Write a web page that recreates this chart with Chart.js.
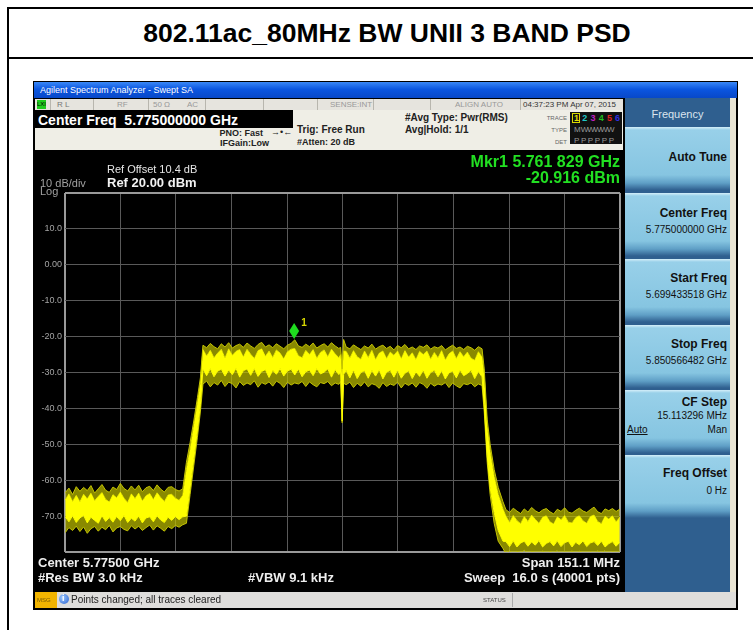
<!DOCTYPE html>
<html lang="en">
<head>
<meta charset="UTF-8">
<title>802.11ac_80MHz BW UNII 3 BAND PSD</title>
<script src="https://cdn.jsdelivr.net/npm/chart.js"></script>
<style>
  body { margin: 0; width: 753px; height: 630px; position: relative; overflow: hidden; background: #fff;
         font-family: "Liberation Sans", Arial, sans-serif; }
  .abs { position: absolute; }
  .t { position: absolute; white-space: nowrap; line-height: 1; }
  .b { font-weight: bold; }
  .sep { position: absolute; top: 99px; width: 1px; height: 11px; background: #b8b6ae; }
  .key { position: absolute; left: 625px; width: 105px;
         background: linear-gradient(to bottom, #d4eef9 0px, #98d0e9 3px, #86c5e1 48px, #5f9fc6 56px, #2f5f8f 100%); }
  .key .t { right: 3px; color: #111; }
</style>
</head>
<body>
  <!-- outer table frame -->
  <div class="abs" style="left:7px;top:7px;width:800px;height:700px;border-top:2px solid #000;border-left:2px solid #000;"></div>
  <div class="abs" style="left:7px;top:57px;width:800px;height:0;border-top:2px solid #000;"></div>
  <div class="t b" style="left:7px;width:760px;top:20px;text-align:center;font-size:26.5px;color:#000;">802.11ac_80MHz BW UNII 3 BAND PSD</div>

  <!-- analyzer window -->
  <div class="abs" style="left:33px;top:81px;width:705px;height:529px;background:#000;"></div>
  <div class="abs" style="left:34px;top:82px;width:703px;height:16px;background:linear-gradient(#3a88f7,#0b56e0 45%,#0848c8);"></div>
  <div class="t" style="left:40px;top:86px;font-size:9px;color:#fff;">Agilent Spectrum Analyzer - Swept SA</div>

  <!-- status row -->
  <div class="abs" style="left:35px;top:99px;width:588px;height:11px;background:#e6e4de;"></div>
  <div class="abs" style="left:37px;top:100px;width:9px;height:9px;background:#1fcc1f;"></div>
  <div class="t" style="left:37px;top:101px;font-size:6px;color:#000;">LXI</div>
  <div class="t" style="left:57px;top:101px;font-size:8px;color:#777;">R L</div>
  <div class="t" style="left:117px;top:101px;font-size:8px;color:#999;">RF</div>
  <div class="t" style="left:153px;top:101px;font-size:8px;color:#999;">50 Ω</div>
  <div class="t" style="left:187px;top:101px;font-size:8px;color:#999;">AC</div>
  <div class="t" style="left:330px;top:101px;font-size:8px;color:#999;">SENSE:INT</div>
  <div class="t" style="left:455px;top:101px;font-size:8px;color:#999;">ALIGN AUTO</div>
  <div class="t" style="left:523px;top:101px;font-size:8px;color:#333;">04:37:23 PM Apr 07, 2015</div>
  <div class="sep" style="left:50px"></div><div class="sep" style="left:93px"></div>
  <div class="sep" style="left:148px"></div><div class="sep" style="left:205px"></div>
  <div class="sep" style="left:263px"></div><div class="sep" style="left:317px"></div>
  <div class="sep" style="left:373px"></div><div class="sep" style="left:430px"></div>
  <div class="sep" style="left:520px"></div>

  <!-- settings panel -->
  <div class="abs" style="left:35px;top:110px;width:588px;height:40px;background:#efeee6;"></div>
  <div class="abs" style="left:35px;top:110px;width:258px;height:18px;background:#000;"></div>
  <div class="t b" style="left:38px;top:113px;font-size:14px;color:#fff;">Center Freq&nbsp; 5.775000000 GHz</div>
  <div class="t b" style="right:490px;top:129px;font-size:9px;color:#222;">PNO: Fast</div>
  <div class="t" style="left:271px;top:128px;font-size:9px;color:#222;">→•←</div>
  <div class="t b" style="left:220px;top:139px;font-size:9px;color:#222;">IFGain:Low</div>
  <div class="t b" style="left:297px;top:125px;font-size:10px;color:#222;">Trig: Free Run</div>
  <div class="t b" style="left:297px;top:138px;font-size:9px;color:#222;">#Atten: 20 dB</div>
  <div class="t b" style="left:405px;top:113px;font-size:10px;color:#222;">#Avg Type: Pwr(RMS)</div>
  <div class="t b" style="left:405px;top:125px;font-size:10px;color:#222;">Avg|Hold: 1/1</div>
  <div class="t" style="right:186px;top:115px;font-size:6px;color:#666;">TRACE</div>
  <div class="t" style="right:186px;top:127px;font-size:6px;color:#666;">TYPE</div>
  <div class="t" style="right:186px;top:139px;font-size:6px;color:#666;">DET</div>
  <div class="abs" style="left:570px;top:112px;width:52px;height:32px;background:#111;"></div>
  <div class="abs" style="left:572px;top:113px;width:8px;height:10px;border:1px solid #d8d800;box-sizing:border-box;"></div>
  <div class="t b" style="left:574px;top:114px;font-size:9px;letter-spacing:3.2px;">
    <span style="color:#e0e000">1</span><span style="color:#20c8c8">2</span><span style="color:#c020c0">3</span><span style="color:#20c020">4</span><span style="color:#e02020">5</span><span style="color:#3030e0">6</span>
  </div>
  <div class="t" style="left:574px;top:126px;font-size:8px;color:#999;">M<span style="letter-spacing:-1px">WWWWW</span></div>
  <div class="t" style="left:574px;top:137px;font-size:8px;color:#999;letter-spacing:1.6px;">PPPPPP</div>

  <!-- trace display -->
  <canvas id="spectrum" width="588" height="442" style="position:absolute;left:35px;top:150px;"></canvas>

  <div class="t" style="left:107px;top:164px;font-size:11px;color:#e6e6e6;">Ref Offset 10.4 dB</div>
  <div class="t b" style="left:107px;top:176px;font-size:13px;color:#f2f2f2;">Ref 20.00 dBm</div>
  <div class="t" style="left:40px;top:178px;font-size:11px;color:#a0a0a0;">10 dB/div</div>
  <div class="t" style="left:40px;top:186px;font-size:11px;color:#a0a0a0;">Log</div>
  <div class="t b" style="right:133px;top:154px;font-size:16px;color:#22e022;">Mkr1 5.761 829 GHz</div>
  <div class="t b" style="right:133px;top:170px;font-size:16px;color:#22e022;">-20.916 dBm</div>
  <div class="t b" style="left:38px;top:556px;font-size:13px;color:#eee;">Center 5.77500 GHz</div>
  <div class="t b" style="left:38px;top:571px;font-size:13px;color:#eee;">#Res BW 3.0 kHz</div>
  <div class="t b" style="left:248px;top:571px;font-size:13px;color:#eee;">#VBW 9.1 kHz</div>
  <div class="t b" style="right:133px;top:556px;font-size:13px;color:#eee;">Span 151.1 MHz</div>
  <div class="t b" style="right:133px;top:571px;font-size:13px;color:#eee;">Sweep&nbsp; 16.0 s (40001 pts)</div>

  <!-- softkey panel -->
  <div class="abs" style="left:623px;top:98px;width:113px;height:494px;background:#2f5f8f;border-left:2px solid #000;box-sizing:border-box;"></div>
  <div class="abs" style="left:730px;top:98px;width:6px;height:494px;background:#e8e4d4;"></div>
  <div class="t" style="left:625px;width:105px;top:109px;text-align:center;font-size:11px;color:#dbe4ee;">Frequency</div>

  <div class="key" style="top:127px;height:63px;">
    <div class="t b" style="top:24px;font-size:12px;">Auto Tune</div>
  </div>
  <div class="key" style="top:193px;height:63px;">
    <div class="t b" style="top:14px;font-size:12px;">Center Freq</div>
    <div class="t" style="top:32px;font-size:10px;">5.775000000 GHz</div>
  </div>
  <div class="key" style="top:259px;height:63px;">
    <div class="t b" style="top:13px;font-size:12px;">Start Freq</div>
    <div class="t" style="top:31px;font-size:10px;">5.699433518 GHz</div>
  </div>
  <div class="key" style="top:325px;height:63px;">
    <div class="t b" style="top:13px;font-size:12px;">Stop Freq</div>
    <div class="t" style="top:31px;font-size:10px;">5.850566482 GHz</div>
  </div>
  <div class="key" style="top:390px;height:63px;">
    <div class="t b" style="top:6px;font-size:12px;">CF Step</div>
    <div class="t" style="top:21px;font-size:10px;">15.113296 MHz</div>
    <div class="t" style="top:35px;font-size:10px;left:2px;right:auto;text-decoration:underline;">Auto</div>
    <div class="t" style="top:35px;font-size:10px;">Man</div>
  </div>
  <div class="key" style="top:455px;height:63px;">
    <div class="t b" style="top:12px;font-size:12px;">Freq Offset</div>
    <div class="t" style="top:31px;font-size:10px;">0 Hz</div>
  </div>

  <!-- message bar -->
  <div class="abs" style="left:35px;top:592px;width:701px;height:16px;background:#dedddb;"></div>
  <div class="abs" style="left:35px;top:592px;width:22px;height:16px;background:#f2b400;"></div>
  <div class="t" style="left:37px;top:597px;font-size:6px;color:#7a5a00;">MSG</div>
  <div class="abs" style="left:59px;top:594px;width:10px;height:10px;border-radius:50%;background:radial-gradient(circle at 35% 35%,#9cc8ff,#2a62d0);"></div>
  <div class="t b" style="left:62px;top:594px;font-size:9px;color:#fff;">i</div>
  <div class="t" style="left:71px;top:595px;font-size:10px;color:#222;">Points changed; all traces cleared</div>
  <div class="t" style="left:483px;top:597px;font-size:6px;color:#444;">STATUS</div>
  <div class="abs" style="left:512px;top:593px;width:1px;height:14px;background:#aaa;"></div>

<script>
  // sweep settings
  const startMHz = 5699.433518;
  const stopMHz = 5850.566482;
  const refLevel = 20;
  const bottomLevel = -80;
  const markerMHz = 5761.829;
  const markerDbm = -20.916;

  // trace envelopes (dBm)
  const freqMHz = [
    5699.5, 5700.5, 5701.5, 5702.5, 5703.5, 5704.5, 5705.5, 5706.5, 5707.5, 5708.5, 5709.5, 5710.5,
    5711.5, 5712.5, 5713.5, 5714.5, 5715.5, 5716.5, 5717.5, 5718.5, 5719.5, 5720.5, 5721.5, 5722.5,
    5723.5, 5724.5, 5725.5, 5726.5, 5727.5, 5728.5, 5729.5, 5730.5, 5731.5,
    5732.5, 5733.5, 5734.5, 5735.5, 5736.3,
    5737, 5738, 5739, 5740, 5741, 5742, 5743, 5744, 5745, 5746, 5747, 5748, 5749, 5750, 5751, 5752,
    5753, 5754, 5755, 5756, 5757, 5758, 5759, 5760, 5761, 5762, 5763, 5764, 5765, 5766, 5767, 5768,
    5769, 5770, 5771, 5772, 5773, 5774,
    5774.5, 5774.9, 5775.3,
    5776, 5777, 5778, 5779, 5780, 5781, 5782, 5783, 5784, 5785, 5786, 5787, 5788, 5789, 5790, 5791,
    5792, 5793, 5794, 5795, 5796, 5797, 5798, 5799, 5800, 5801, 5802, 5803, 5804, 5805, 5806, 5807,
    5808, 5809, 5810, 5811, 5812, 5813,
    5813.6, 5814.4, 5815.2, 5816.3, 5817.4, 5818.7,
    5819.5, 5820.5, 5821.5, 5822.5, 5823.5, 5824.5, 5825.5, 5826.5, 5827.5, 5828.5, 5829.5, 5830.5,
    5831.5, 5832.5, 5833.5, 5834.5, 5835.5, 5836.5, 5837.5, 5838.5, 5839.5, 5840.5, 5841.5, 5842.5,
    5843.5, 5844.5, 5845.5, 5846.5, 5847.5, 5848.5, 5849.5, 5850.5
  ];

  const peakHigh = [
    -63.5, -62.2, -64.0, -61.8, -63.1, -62.0, -62.9, -61.5, -63.6, -62.4, -61.2, -62.8, -63.4, -61.9, -62.6, -60.9,
    -62.3, -63.0, -61.6, -62.7, -61.4, -63.2, -62.1, -61.7, -62.9, -61.3, -62.5, -63.3, -62.0, -61.8, -62.6, -63.0, -62.4,
    -55, -49.5, -43.5, -37, -31.5,
    -22.4, -23.1, -21.9, -22.8, -23.4, -22.0, -22.9, -21.7, -23.2, -22.5, -22.1, -23.0, -21.8, -22.6, -23.3, -22.2,
    -21.6, -22.9, -22.3, -23.1, -22.0, -22.7, -23.4, -22.4, -21.9, -20.9, -22.6, -23.0, -22.1, -22.8, -21.8, -23.2,
    -22.5, -22.0, -22.9, -21.7, -22.6, -23.3,
    -23.0, -29.0, -20.8,
    -22.9, -23.4, -22.3, -23.0, -23.6, -22.6, -23.2, -22.1, -23.5, -22.8, -22.4, -23.3, -22.7, -23.7, -22.5, -23.1,
    -22.2, -23.4, -22.9, -23.6, -22.6, -23.0, -22.3, -23.5, -22.8, -23.2, -22.5, -23.7, -23.0, -22.4, -23.3, -22.9,
    -23.6, -22.7, -23.1, -23.8, -22.8, -23.4,
    -29, -43, -50, -57, -62, -66,
    -68.2, -69.0, -67.8, -68.6, -69.3, -68.0, -68.9, -67.6, -68.5, -69.1, -68.3, -67.9, -68.8, -69.4, -68.1, -68.7,
    -67.7, -68.9, -69.2, -68.4, -67.8, -68.6, -69.0, -68.2, -67.5, -68.8, -69.3, -68.0, -68.5, -67.9, -68.7, -68.1
  ];

  const bandHigh = [
    -65.5, -63.8, -65.9, -64.2, -66.0, -63.9, -65.2, -63.6, -65.7, -64.5, -63.4, -65.3, -66.1, -64.0, -64.9, -63.3,
    -65.0, -66.2, -63.8, -65.1, -63.6, -65.8, -64.3, -63.7, -65.4, -63.5, -64.8, -65.9, -64.1, -63.9, -65.0, -65.6, -64.2,
    -57, -51.5, -45, -38.5, -33,
    -23.6, -25.4, -23.8, -25.9, -24.6, -23.5, -26.0, -23.4, -25.2, -24.1, -23.6, -25.7, -23.5, -24.9, -26.1, -23.9,
    -23.4, -25.5, -24.0, -25.8, -23.7, -24.6, -26.2, -24.2, -23.5, -23.3, -25.3, -25.9, -23.8, -25.0, -23.6, -26.0,
    -24.4, -23.7, -25.6, -23.5, -24.8, -25.9,
    -25.0, -31.0, -24.0,
    -24.1, -26.0, -23.9, -25.6, -26.3, -24.0, -25.8, -23.8, -26.4, -24.6, -24.0, -26.1, -24.3, -25.2, -24.0, -26.2,
    -23.9, -25.7, -24.5, -26.4, -24.1, -25.0, -24.0, -26.3, -24.4, -25.9, -23.9, -26.5, -24.8, -24.0, -26.1, -24.2,
    -25.6, -24.3, -26.0, -26.6, -24.2, -25.7,
    -31, -45, -52, -59, -64, -68,
    -70.0, -71.8, -69.8, -71.2, -72.1, -70.1, -71.5, -69.7, -70.9, -72.0, -70.3, -69.9, -71.6, -72.2, -70.2, -71.0,
    -69.8, -71.7, -71.9, -70.4, -69.9, -71.3, -72.0, -70.1, -69.7, -71.5, -72.1, -70.0, -70.8, -69.9, -71.6, -70.3
  ];

  const bandLow = [
    -70.2, -71.6, -69.9, -71.8, -70.5, -69.8, -71.9, -70.3, -71.2, -72.0, -69.9, -71.5, -70.4, -71.7, -70.1, -71.3,
    -69.8, -71.8, -70.6, -71.4, -70.0, -71.9, -70.5, -70.2, -71.6, -69.9, -71.1, -71.8, -70.3, -71.2, -70.1, -71.0, -70.2,
    -70, -62, -54, -46, -39,
    -29.0, -30.9, -28.9, -31.2, -29.6, -29.1, -31.0, -29.3, -30.6, -28.8, -31.3, -29.5, -29.0, -30.8, -28.9, -31.1,
    -29.7, -29.2, -31.4, -29.4, -30.5, -28.9, -31.0, -29.6, -29.1, -30.7, -29.0, -31.2, -29.8, -29.3, -30.9, -28.9,
    -30.4, -29.9, -29.0, -31.3, -29.2, -30.6,
    -30.0, -43.5, -30.5,
    -29.4, -31.5, -29.3, -31.7, -30.0, -29.5, -31.6, -29.4, -31.0, -29.2, -31.8, -29.9, -29.4, -31.3, -29.3, -31.6,
    -30.2, -29.5, -31.7, -29.8, -31.1, -29.3, -31.6, -30.0, -29.4, -31.2, -29.5, -31.8, -30.1, -29.6, -31.5, -29.3,
    -30.9, -30.3, -29.4, -31.7, -29.7, -31.2,
    -39, -53, -62, -69, -74, -77,
    -77.1, -78.5, -76.9, -78.6, -77.5, -77.0, -78.4, -77.2, -78.1, -76.8, -78.6, -77.6, -77.1, -78.3, -76.9, -78.5,
    -77.4, -77.0, -78.6, -77.3, -78.0, -76.9, -78.5, -77.5, -77.1, -78.2, -77.0, -78.6, -77.7, -77.1, -78.4, -77.3
  ];

  const peakLow = [
    -74.6, -73.2, -74.0, -72.8, -74.3, -73.0, -74.8, -73.5, -72.9, -74.2, -73.1, -73.8, -72.6, -74.4, -73.3, -72.9,
    -73.7, -74.1, -72.7, -73.6, -72.8, -74.0, -73.2, -72.5, -73.9, -72.7, -73.4, -74.2, -72.9, -73.5, -72.6, -73.1, -72.4,
    -72, -64, -56, -48, -41,
    -33.2, -32.4, -34.0, -32.8, -33.5, -32.2, -33.9, -32.7, -33.1, -34.3, -32.5, -33.6, -32.9, -33.4, -32.3, -34.1,
    -32.8, -33.3, -32.6, -33.8, -32.4, -33.0, -34.2, -32.7, -33.5, -32.9, -33.2, -32.5, -33.9, -32.6, -33.4, -34.0,
    -32.8, -33.1, -32.5, -33.7, -32.9, -33.3,
    -32.5, -44.0, -33.0,
    -33.4, -32.7, -34.2, -33.0, -33.8, -32.6, -34.0, -33.1, -33.5, -34.4, -32.8, -33.9, -33.2, -33.6, -32.7, -34.3,
    -33.0, -33.6, -32.9, -34.1, -32.8, -33.3, -34.4, -33.0, -33.8, -33.2, -33.5, -32.8, -34.2, -32.9, -33.7, -34.3,
    -33.1, -33.4, -32.9, -34.0, -33.2, -33.6,
    -41, -55, -64, -72, -77, -79,
    -80.5, -79.6, -81.0, -79.8, -80.4, -79.5, -80.8, -79.9, -80.2, -81.1, -79.7, -80.6, -79.9, -80.3, -79.6, -80.9,
    -80.0, -80.4, -79.7, -80.7, -79.8, -80.2, -81.0, -79.9, -80.5, -79.7, -80.3, -79.6, -80.8, -79.9, -80.4, -80.0
  ];

  const toPoints = vals => freqMHz.map((f, i) => ({ x: f, y: vals[i] }));

  const frameColor = '#9a9a9a';
  const gridColor = '#595959';

  // green diamond marker sitting on top of the trace point
  const markerPlugin = {
    id: 'marker1',
    afterDatasetsDraw(chart) {
      const { ctx, scales } = chart;
      const px = scales.x.getPixelForValue(markerMHz);
      const py = scales.y.getPixelForValue(markerDbm);
      ctx.save();
      ctx.fillStyle = '#1fdc1f';
      ctx.beginPath();
      ctx.moveTo(px, py - 17);
      ctx.lineTo(px + 5, py - 9);
      ctx.lineTo(px, py - 1);
      ctx.lineTo(px - 5, py - 9);
      ctx.closePath();
      ctx.fill();
      ctx.fillStyle = '#d6d600';
      ctx.font = 'bold 10px "Liberation Sans", Arial';
      ctx.fillText('1', px + 7, py - 14);
      ctx.restore();
    }
  };

  const fringe = 'rgba(195, 195, 0, 0.7)';

  new Chart(document.getElementById('spectrum'), {
    type: 'line',
    data: {
      datasets: [
        { data: toPoints(peakHigh), borderColor: '#c4c400', borderWidth: 1, backgroundColor: fringe, fill: '+1' },
        { data: toPoints(bandHigh), borderColor: '#ffff00', borderWidth: 1, backgroundColor: '#ffff00', fill: '+1' },
        { data: toPoints(bandLow), borderColor: '#ffff00', borderWidth: 1, backgroundColor: fringe, fill: '+1' },
        { data: toPoints(peakLow), borderColor: '#c4c400', borderWidth: 1, fill: false }
      ]
    },
    options: {
      responsive: false,
      animation: false,
      devicePixelRatio: 1,
      elements: { point: { radius: 0 }, line: { tension: 0 } },
      layout: { padding: { top: 43, right: 3, bottom: 40, left: 0 } },
      plugins: { legend: { display: false }, tooltip: { enabled: false } },
      scales: {
        x: {
          type: 'linear',
          min: startMHz,
          max: stopMHz,
          afterBuildTicks: scale => {
            const ticks = [];
            for (let i = 0; i <= 10; i++) ticks.push({ value: startMHz + i * (stopMHz - startMHz) / 10 });
            scale.ticks = ticks;
          },
          ticks: { display: false },
          border: { display: false },
          grid: {
            drawTicks: false,
            color: c => (c.index === 0 || c.index === 10) ? frameColor : gridColor,
            lineWidth: c => (c.index === 0 || c.index === 10) ? 2 : 1
          }
        },
        y: {
          min: bottomLevel,
          max: refLevel,
          afterFit: scale => { scale.width = 30; },
          ticks: {
            stepSize: 10,
            padding: 3,
            color: '#a4a4a4',
            font: { family: '"Liberation Sans", Arial', size: 9 },
            callback: v => (v === refLevel || v === bottomLevel) ? '' : (v === 0 ? '0.00' : v.toFixed(1))
          },
          border: { display: false },
          grid: {
            drawTicks: false,
            color: c => (c.tick.value === refLevel || c.tick.value === bottomLevel) ? frameColor : gridColor,
            lineWidth: c => (c.tick.value === refLevel || c.tick.value === bottomLevel) ? 2 : 1
          }
        }
      }
    },
    plugins: [markerPlugin]
  });
</script>
</body>
</html>
